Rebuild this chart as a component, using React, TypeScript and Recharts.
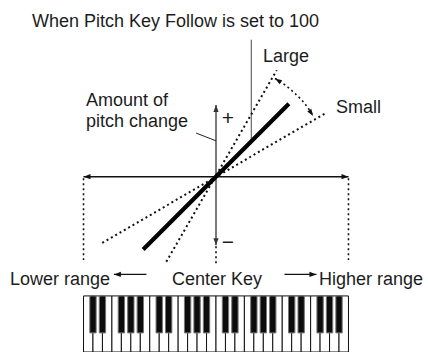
import React from "react"
import { ComposedChart, XAxis, YAxis, Line, ReferenceLine, ReferenceArea } from "recharts"

// diagram units: 1 unit = 1 semitone (keys on x, pitch change on y)
const W = 428
const H = 352
const UNIT = 5.52
const ORIGIN_X = 216
const ORIGIN_Y = 176.7
const X_DOMAIN = [-ORIGIN_X / UNIT, (W - ORIGIN_X) / UNIT]
const Y_DOMAIN = [-(H - ORIGIN_Y) / UNIT, ORIGIN_Y / UNIT]

// key follow lines (x = key offset, y = pitch change)
const normalLine = [
  { x: -13.2, y: -13.2 },
  { x: 13.2, y: 13.2 },
]
const largeLine = [
  { x: -9.0, y: -15.4 },
  { x: 11.0, y: 19.3 },
]
const smallLine = [
  { x: -20.6, y: -12.0 },
  { x: 20.0, y: 11.6 },
]
const arcPoints = [
  { x: 10.7, y: 17.8 },
  { x: 12.8, y: 16.4 },
  { x: 14.6, y: 14.8 },
  { x: 16.2, y: 13.1 },
  { x: 17.6, y: 11.0 },
]

// keyboard
const KEY_RANGE = [-24, 24]
const OCTAVES = 4
const whiteNames = ["C", "D", "E", "F", "G", "A", "B"]
const blackAfterWhite = [0, 1, 3, 4, 5]
const KEY_TOP = -21.6
const BLACK_BOTTOM = -28.3

const whiteW = (KEY_RANGE[1] - KEY_RANGE[0]) / (OCTAVES * whiteNames.length)
const blackW = 1.15

const whiteKeys = Array.from({ length: OCTAVES * whiteNames.length }, (_, i) => ({
  x1: KEY_RANGE[0] + i * whiteW,
  x2: KEY_RANGE[0] + (i + 1) * whiteW,
}))
const blackKeys = Array.from({ length: OCTAVES }).flatMap((_, o) =>
  blackAfterWhite.map((w) => {
    const b = KEY_RANGE[0] + (o * whiteNames.length + w + 1) * whiteW
    return { x1: b - blackW / 2, x2: b + blackW / 2 }
  })
)

const TEXT = "#1c1c1c"
const font = "'Liberation Sans', Arial, Helvetica, sans-serif"

function head(x: number, y: number, fx: number, fy: number, color: string, len = 7, half = 2.6) {
  // tip at (x,y), pointing away from (fx,fy)
  const dx = x - fx
  const dy = y - fy
  const d = Math.hypot(dx, dy) || 1
  const ux = dx / d
  const uy = dy / d
  const bx = x - ux * len
  const by = y - uy * len
  return (
    <polygon
      points={`${x},${y} ${bx - uy * half},${by + ux * half} ${bx + uy * half},${by - ux * half}`}
      fill={color}
    />
  )
}

const arrowShape = (heads: "start" | "end" | "both", color: string, width: number) => (p: any) => {
  const { x1, y1, x2, y2 } = p
  return (
    <g>
      <line x1={x1} y1={y1} x2={x2} y2={y2} stroke={color} strokeWidth={width} />
      {heads !== "end" && head(x1, y1, x2, y2, color)}
      {heads !== "start" && head(x2, y2, x1, y1, color)}
    </g>
  )
}

const arcDot = (p: any) => {
  const { cx, cy, index, points } = p
  if (!points || points.length < 2) return <g key={index} />
  if (index === 0) return <g key={index}>{head(cx, cy, points[1].x, points[1].y, "#111", 7, 2.4)}</g>
  if (index === points.length - 1) {
    const q = points[points.length - 2]
    return <g key={index}>{head(cx, cy, q.x, q.y, "#111", 7, 2.4)}</g>
  }
  return <g key={index} />
}

const dotted = { stroke: "#111", strokeWidth: 2, strokeDasharray: "2 3" }

export default function App() {
  return (
    <div style={{ position: "absolute", left: 0, top: 0, width: W, height: H, background: "#fff" }}>
      <ComposedChart width={W} height={H} margin={{ top: 0, right: 0, bottom: 0, left: 0 }}>
        <XAxis type="number" dataKey="x" domain={X_DOMAIN} allowDataOverflow hide />
        <YAxis type="number" dataKey="y" domain={Y_DOMAIN} allowDataOverflow hide />

        {whiteKeys.map((k, i) => (
          <ReferenceArea
            key={`w${i}`}
            x1={k.x1}
            x2={k.x2}
            y1={Y_DOMAIN[0]}
            y2={KEY_TOP}
            fill="#fff"
            fillOpacity={1}
            stroke="#111"
            strokeWidth={1}
            ifOverflow="visible"
          />
        ))}
        {blackKeys.map((k, i) => (
          <ReferenceArea
            key={`b${i}`}
            x1={k.x1}
            x2={k.x2}
            y1={BLACK_BOTTOM}
            y2={KEY_TOP}
            fill="#0c0c0c"
            fillOpacity={1}
            stroke="#777"
            strokeWidth={1}
            ifOverflow="visible"
          />
        ))}

        {/* dotted guides below axis */}
        <ReferenceLine segment={[{ x: KEY_RANGE[0], y: -0.3 }, { x: KEY_RANGE[0], y: -15.1 }]} {...dotted} strokeWidth={1.6} />
        <ReferenceLine segment={[{ x: KEY_RANGE[1], y: -0.3 }, { x: KEY_RANGE[1], y: -15.1 }]} {...dotted} strokeWidth={1.6} />
        <ReferenceLine segment={[{ x: 0, y: -12.6 }, { x: 0, y: -16.0 }]} {...dotted} strokeWidth={1.6} />

        {/* axes */}
        <ReferenceLine
          segment={[{ x: KEY_RANGE[0], y: 0 }, { x: KEY_RANGE[1], y: 0 }]}
          shape={arrowShape("both", "#111", 1.5)}
        />
        <ReferenceLine
          segment={[{ x: 0, y: -12.4 }, { x: 0, y: 13.0 }]}
          shape={arrowShape("both", "#333", 1.3)}
        />

        {/* leaders */}
        <ReferenceLine segment={[{ x: 6.4, y: 6.4 }, { x: 6.4, y: 24.8 }]} stroke="#666" strokeWidth={1.2} />
        <ReferenceLine segment={[{ x: -3.6, y: 7.9 }, { x: 0, y: 6.5 }]} stroke="#222" strokeWidth={1} />

        {/* range arrows */}
        <ReferenceLine segment={[{ x: -18.5, y: -17.7 }, { x: -12.6, y: -17.7 }]} shape={arrowShape("start", "#111", 1.2)} />
        <ReferenceLine segment={[{ x: 12.4, y: -17.7 }, { x: 18.2, y: -17.7 }]} shape={arrowShape("end", "#111", 1.2)} />

        <Line data={smallLine} dataKey="y" type="linear" {...dotted} dot={false} activeDot={false} isAnimationActive={false} />
        <Line data={largeLine} dataKey="y" type="linear" {...dotted} dot={false} activeDot={false} isAnimationActive={false} />
        <Line data={normalLine} dataKey="y" type="linear" stroke="#000" strokeWidth={4.2} dot={false} activeDot={false} isAnimationActive={false} />
        <Line
          data={arcPoints}
          dataKey="y"
          type="natural"
          stroke="#111"
          strokeWidth={1.6}
          strokeDasharray="2 3"
          dot={arcDot}
          activeDot={false}
          isAnimationActive={false}
        />
      </ComposedChart>

      <svg width={W} height={H} style={{ position: "absolute", left: 0, top: 0, pointerEvents: "none" }}>
        <g fontFamily={font} fontSize={18} fill={TEXT}>
          <text x={32} y={27}>When Pitch Key Follow is set to 100</text>
          <text x={263} y={62}>Large</text>
          <text x={336} y={113}>Small</text>
          <text x={86} y={106}>Amount of</text>
          <text x={86} y={127}>pitch change</text>
          <text x={228} y={125} textAnchor="middle" fontSize={21}>+</text>
          <text x={228} y={249} textAnchor="middle" fontSize={21}>−</text>
          <text x={10} y={285}>Lower range</text>
          <text x={172} y={285}>Center Key</text>
          <text x={319} y={285}>Higher range</text>
        </g>
      </svg>
    </div>
  )
}
